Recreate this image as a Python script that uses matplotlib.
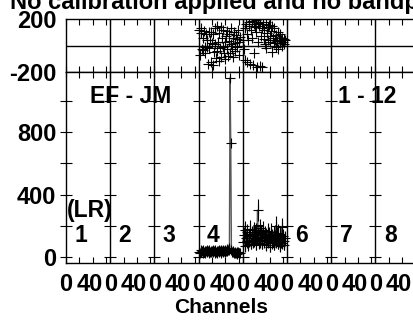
import matplotlib
matplotlib.use("Agg")
import matplotlib.pyplot as plt
import matplotlib.transforms as mtransforms

plt.rcParams['font.family'] = ['Liberation Sans', 'DejaVu Sans']
plt.rcParams['font.weight'] = 'bold'

title = "No calibration applied and no bandpass"
baseline_label = "EF - JM"
ifs_label = "1 - 12"
pol_label = "(LR)"
panel_labels = ["1", "2", "3", "4", "5", "6", "7", "8"]
x_label = "Channels"
x_tick_values = [0, 40]
amp_tick_labels = [0, 400, 800]
phase_tick_labels = [-200, 200]

# Panel 4 (IF 4) data, channels 1..62
p4_channels = list(range(1, 63))
p4_amp = [35, 28, 42, 30, 38, 25, 45, 33, 40, 29,
          36, 44, 31, 39, 27, 48, 34, 41, 30, 37,
          43, 32, 38, 26, 46, 35, 40, 29, 37, 44,
          33, 39, 28, 45, 36, 42, 31, 38, 47, 34,
          40, 52, 36, 45, 60, 48, 1146, 730, 42, 35,
          30, 38, 27, 33, 24, 29, 35, 22, 31, 26, 28, 24]
p4_err = [12, 15, 10, 14, 11, 13, 16, 12, 10, 14,
          13, 11, 15, 12, 14, 10, 13, 16, 12, 11,
          14, 12, 10, 15, 13, 11, 12, 14, 16, 10,
          12, 13, 15, 11, 14, 12, 10, 13, 15, 12,
          14, 20, 12, 16, 25, 15, 20, 15, 13, 12,
          11, 14, 12, 10, 13, 12, 15, 11, 12, 14, 10, 12]
p4_phase = [120, -70, 95, 130, -30, 60, -35, 110, -10, -60,
            85, -15, 40, -140, 100, -20, 45, -125, 105, 20,
            -150, 90, -50, 130, 15, -95, 145, -45, 30, -120,
            95, -20, 140, -90, 55, -10, 120, -60, 25, -105,
            75, -30, 110, -80, 35, 90, -55, 10, 130, -25,
            60, -90, 100, 20, -40, 80, -15, 50, 115, -70, 30, 65]

# Panel 5 (IF 5) data, channels 1..63
p5_channels = list(range(1, 64))
p5_amp = [95, 140, 70, 175, 120, 100, 160, 75, 135, 105,
          180, 85, 150, 125, 95, 170, 110, 140, 80, 160,
          120, 300, 145, 90, 185, 105, 155, 130, 85, 175,
          125, 100, 150, 75, 140, 110, 165, 95, 145, 65,
          120, 160, 90, 135, 105, 150, 80, 125, 200, 95,
          140, 85, 155, 110, 70, 145, 100, 190, 90, 135, 105, 80, 120]
p5_err = [40, 50, 35, 55, 45, 40, 50, 35, 45, 40,
          55, 35, 50, 45, 40, 55, 45, 50, 35, 55,
          45, 70, 50, 40, 60, 45, 50, 45, 35, 55,
          45, 40, 50, 35, 45, 40, 55, 40, 50, 35,
          45, 55, 40, 45, 40, 50, 35, 45, 60, 40,
          50, 35, 55, 45, 35, 50, 40, 60, 40, 45, 45, 35, 45]
p5_phase = [45, -30, 130, -110, 160, 90, -125, 40, 175, 150,
            -140, 120, 60, 185, -150, 160, -60, 140, 100, 190,
            -160, 170, 30, 145, -155, 180, 75, 130, -165, 160,
            50, 120, 10, 175, -20, 95, 140, 40, 155, 70,
            25, 110, -50, 150, 60, 20, 130, 45, -10, 80,
            35, 100, -30, 55, 20, 90, 45, -5, 60, 30, 15, 50, 40]

SPAN = 66
NPAN = 8
W, H = 414, 320
fig = plt.figure(figsize=(W / 100, H / 100), dpi=100)

left_px, pan_px = 66, 44.2
ax_w = NPAN * pan_px / W
axp = fig.add_axes([left_px / W, (H - 72) / H, ax_w, 53 / H])
axa = fig.add_axes([left_px / W, (H - 263) / H, ax_w, 191 / H])

FS = 16.5
TFS = 17
mk = dict(marker='+', markersize=7, mew=0.8, color='black', linestyle='none')

for ax in (axp, axa):
    ax.set_xlim(0, NPAN * SPAN)
    for p in range(1, NPAN):
        ax.axvline(p * SPAN, color='black', lw=1.0)
    ax.set_xticks([p * SPAN + v for p in range(NPAN) for v in x_tick_values])
    ax.set_xticks([p * SPAN + v for p in range(NPAN) for v in (20, 60)], minor=True)
    ax.tick_params(axis='x', which='both', direction='in', top=True, bottom=True,
                   length=4, width=0.8)
    for s in ax.spines.values():
        s.set_linewidth(1.0)

# Phase panel
axp.set_ylim(-200, 200)
axp.axhline(0, color='black', lw=1.0)
axp.set_yticks(phase_tick_labels)
axp.set_yticklabels([str(v) for v in phase_tick_labels], fontsize=TFS, fontweight='bold')
axp.tick_params(axis='y', length=0, pad=7)
axp.tick_params(axis='x', labelbottom=False)
axp.plot([3 * SPAN + c for c in p4_channels], p4_phase, **mk)
axp.plot([4 * SPAN + c for c in p5_channels], p5_phase, **mk)

# Amplitude panel
axa.set_ylim(-38, 1184)
axa.set_yticks(amp_tick_labels)
axa.set_yticks([200, 600, 1000], minor=True)
axa.set_yticklabels([str(v) for v in amp_tick_labels], fontsize=TFS, fontweight='bold')
axa.tick_params(axis='y', which='both', direction='inout', length=8, width=0.8, pad=3)
xt = axa.get_xticks()
axa.set_xticklabels([str(x_tick_values[i % 2]) for i in range(len(xt))],
                    fontsize=TFS, fontweight='bold')
axa.tick_params(axis='x', which='major', pad=7)
for p in range(1, NPAN):
    axa.plot([p * SPAN] * 6, [0, 200, 400, 600, 800, 1000], marker='_',
             markersize=8, mew=0.8, color='black', linestyle='none')

for chans, amp, err, p in ((p4_channels, p4_amp, p4_err, 3),
                           (p5_channels, p5_amp, p5_err, 4)):
    xs = [p * SPAN + c for c in chans]
    axa.plot(xs, amp, color='0.35', lw=1.0)
    axa.errorbar(xs, amp, yerr=err, fmt='none', ecolor='black', elinewidth=0.8)
    axa.plot(xs, amp, **mk)

for i, lab in enumerate(panel_labels):
    axa.text(i * SPAN + 22, 140, lab, ha='center', va='center', fontsize=FS,
             fontweight='bold')
axa.text(2, 295, pol_label, ha='left', va='center', fontsize=FS, fontweight='bold')
axa.text(36, 1025, baseline_label, ha='left', va='center', fontsize=FS, fontweight='bold')
axa.text(406, 1025, ifs_label, ha='left', va='center', fontsize=FS, fontweight='bold')

axa.set_xlabel(x_label, fontsize=15, fontweight='bold')
axa.xaxis.set_label_coords(0.438, -0.185)

fig.text(10 / W, 1 - 9 / H, title, ha='left', va='baseline', fontsize=17,
         fontweight='bold')

# shift the "40" tick labels slightly left, as in the reference
shift = mtransforms.ScaledTranslation(-3 / 100, 0, fig.dpi_scale_trans)
for i, tk in enumerate(axa.xaxis.get_major_ticks()):
    if i % 2 == 1:
        tk.label1.set_transform(tk.label1.get_transform() + shift)

fig.savefig("out.png", dpi=100)
